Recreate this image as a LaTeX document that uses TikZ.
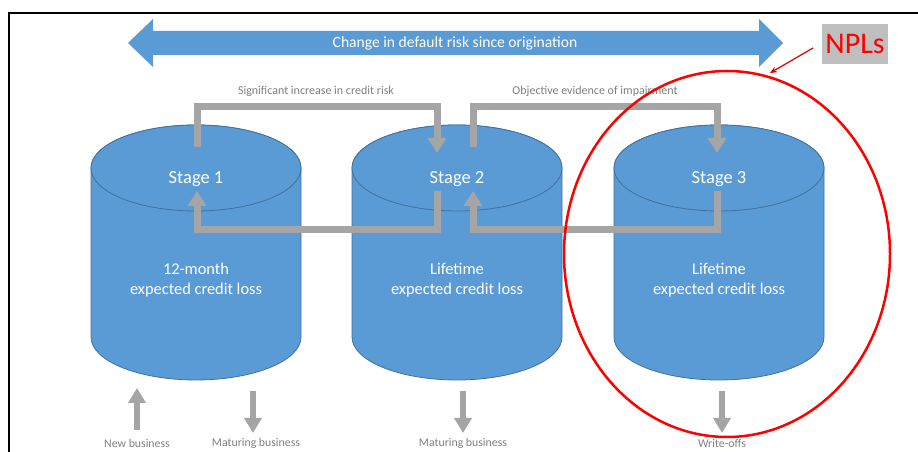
\documentclass[tikz,border=0pt]{standalone}
\usepackage{fontspec}
\setmainfont{Carlito}
\usetikzlibrary{arrows.meta}
\definecolor{cblue}{HTML}{5B9BD5}
\definecolor{cedge}{HTML}{41719C}
\definecolor{cgray}{HTML}{A5A5A5}
\definecolor{lgray}{HTML}{7F7F7F}
\definecolor{npl}{HTML}{BFBFBF}
\tikzset{
  cylbody/.style={fill=cblue,draw=cedge,line width=0.8pt},
  flow/.style={draw=cgray,line width=7pt,-{Triangle[width=18pt,length=15pt]}},
  side/.style={draw=cgray,line width=6pt,-{Triangle[width=17pt,length=15pt]}},
  wlab/.style={text=white,font=\fontsize{18.5}{21}\selectfont,align=center},
  blab/.style={text=white,font=\fontsize{16.4}{20}\selectfont,align=center},
  glab/.style={text=lgray,font=\fontsize{11.8}{13}\selectfont},
  tlab/.style={text=lgray,font=\fontsize{12}{13}\selectfont},
}
\begin{document}
\begin{tikzpicture}[x=1pt,y=1pt]
\useasboundingbox (0,0) rectangle (918,452);
% frame
\draw[line width=2pt] (9,0) -- (9,439) -- (918,439);
% big double arrow
\fill[cblue] (128,409) -- (153,433) -- (153,421) -- (759,421) -- (759,433) -- (783,409)
  -- (759,385) -- (759,397) -- (153,397) -- (153,385) -- cycle;
\node[text=white,font=\fontsize{15.6}{17}\selectfont] (risk) at (455,409) {Change in default risk since origination};
% cylinders
\foreach \cx/\n in {196/1,457/2,719/3}{
  \path[cylbody] (\cx-105,284) -- (\cx-105,115) arc[start angle=180,end angle=360,x radius=105,y radius=43]
     -- (\cx+105,284) arc[start angle=0,end angle=180,x radius=105,y radius=43] -- cycle;
  \path[cylbody] (\cx,284) ellipse[x radius=105,y radius=43];
}
\node[wlab] (s1) at (196,273) {Stage 1};
\node[wlab] (s2) at (457,273) {Stage 2};
\node[wlab] (s3) at (719,273) {Stage 3};
\node[blab] (l1) at (196,172) {12-month\\expected credit loss};
\node[blab] (l2) at (457,172) {Lifetime\\expected credit loss};
\node[blab] (l3) at (719,172) {Lifetime\\expected credit loss};
% transfer arrows
\coordinate (a1s) at (197,305); \coordinate (a1e) at (437,299);
\coordinate (a2s) at (473,305); \coordinate (a2e) at (717,299);
\coordinate (b1s) at (437,261); \coordinate (b1e) at (197,261);
\coordinate (b2s) at (717,261); \coordinate (b2e) at (473,261);
\draw[flow] (a1s) |- (316,345) -| (a1e);
\draw[flow] (a2s) |- (595,345) -| (a2e);
\draw[flow] (b1s) |- (316,222) -| (b1e);
\draw[flow] (b2s) |- (595,222) -| (b2e);
\node[tlab] (t1) at (316,361) {Significant increase in credit risk};
\node[tlab] (t2) at (595,361) {Objective evidence of impairment};
% in/out flows
\coordinate (n0) at (137,22); \coordinate (n1) at (137,64);
\coordinate (m0) at (253,61); \coordinate (m1) at (253,19);
\coordinate (p0) at (463,61); \coordinate (p1) at (463,19);
\coordinate (w0) at (722,61); \coordinate (w1) at (722,19);
\draw[side] (n0) -- (n1);
\draw[side] (m0) -- (m1);
\draw[side] (p0) -- (p1);
\draw[side] (w0) -- (w1);
\node[glab] (nb) at (137,9) {New business};
\node[glab] (mb1) at (256,9) {Maturing business};
\node[glab] (mb2) at (463,9) {Maturing business};
\node[glab] (wo) at (722,9) {Write-offs};
% NPL highlight
\draw[red,line width=2.5pt] (727,198) ellipse[x radius=163,y radius=183];
\node[fill=npl,text=red,font=\fontsize{30}{32}\selectfont,inner sep=1pt,minimum width=66pt,minimum height=40pt] (npls) at (855,408) {NPLs};
\coordinate (nplarrow) at (770,379);
\draw[red!85!black,line width=1.2pt,-{Stealth[length=7pt,width=6pt]}] (813,404) -- (nplarrow);
\end{tikzpicture}
\end{document}
